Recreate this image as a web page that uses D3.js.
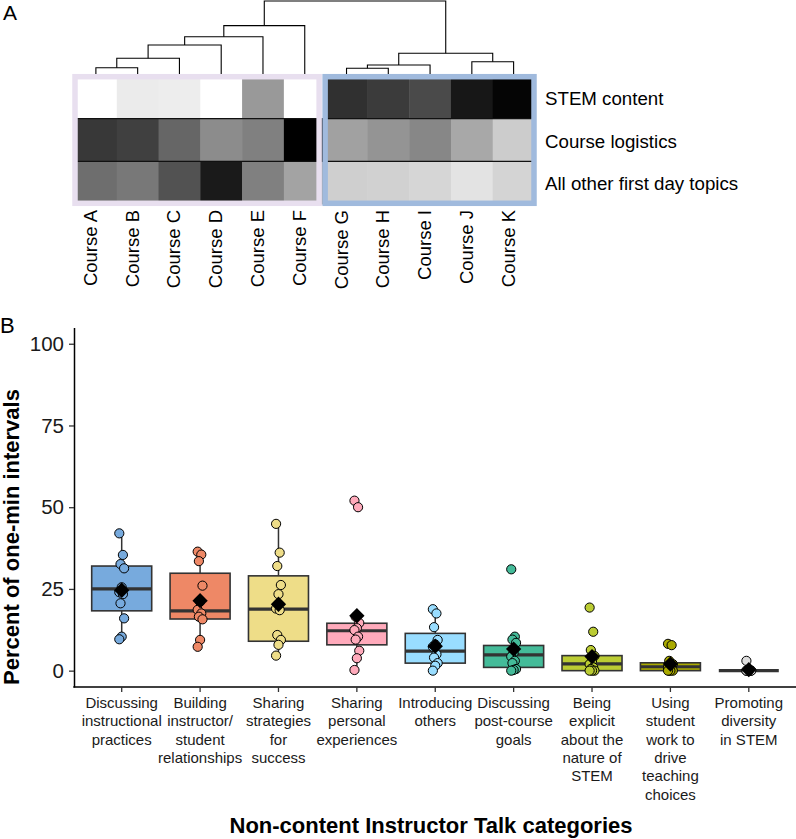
<!DOCTYPE html>
<html>
<head>
<meta charset="utf-8">
<script src="https://cdn.jsdelivr.net/npm/d3@7"></script>
<style>
  body { margin: 0; background: #fff; }
  text { font-family: "Liberation Sans", Arial, Helvetica, sans-serif; }
</style>
</head>
<body>
<script>
// ---- panel A data ----
var courses = ['Course A','Course B','Course C','Course D','Course E','Course F',
               'Course G','Course H','Course I','Course J','Course K'];
var topics = ['STEM content', 'Course logistics', 'All other first day topics'];
// shading intensity per course (0 = white, 1 = black)
var stemContent     = [0.00, 0.08, 0.07, 0.00, 0.40, 0.00, 0.81, 0.77, 0.71, 0.91, 0.98];
var courseLogistics = [0.78, 0.75, 0.60, 0.45, 0.50, 1.00, 0.37, 0.42, 0.47, 0.34, 0.20];
var otherTopics     = [0.57, 0.53, 0.68, 0.90, 0.50, 0.36, 0.19, 0.18, 0.16, 0.11, 0.17];
var groupA = ['Course A','Course F'];
var groupB = ['Course G','Course K'];
// clustering tree, h = merge height (0 leaves .. 1 root)
var dendro = {h: 1, children: [
  {h: 0.662, children: [
    {h: 0.511, children: [
      {h: 0.397, children: [
        {h: 0.215, children: [
          {h: 0.086, children: ['Course A', 'Course B']}, 'Course C']},
        'Course D']},
      'Course E']},
    'Course F']},
  {h: 0.284, children: [
    {h: 0.123, children: [
      {h: 0.078, children: ['Course G', 'Course H']}, 'Course I']},
    {h: 0.168, children: ['Course J', 'Course K']}]}
]};

// ---- panel B data ----
var categories = [
  'Discussing\ninstructional\npractices',
  'Building\ninstructor/\nstudent\nrelationships',
  'Sharing\nstrategies\nfor\nsuccess',
  'Sharing\npersonal\nexperiences',
  'Introducing\nothers',
  'Discussing\npost-course\ngoals',
  'Being\nexplicit\nabout the\nnature of\nSTEM',
  'Using\nstudent\nwork to\ndrive\nteaching\nchoices',
  'Promoting\ndiversity\nin STEM'
];
var colors = ['#77AADD','#EE8866','#EEDD88','#FFAABB','#99DDFF','#44BB99','#BBCC33','#AAAA00','#DDDDDD'];
var q1    = [18.3, 15.8,  9.0,  7.9,  2.3,  1.0, 0.0, 0.0, 0];
var med   = [25.0, 18.3, 18.8, 12.2,  6.0,  4.8, 2.1, 1.2, 0];
var q3    = [32.0, 29.8, 29.0, 14.5, 11.4,  7.7, 4.6, 2.4, 0];
var whLo  = [ 9.6,  7.3,  4.6,  0.0,  0.0,  0.0, 0.0, 0.0, 0];
var whHi  = [42.0, 36.4, 44.9, 14.6, 18.8, 10.4, 6.3, 2.4, 0];
var means = [24.6, 21.4, 20.3, 16.8,  7.5,  6.6, 4.3, 2.0, 0.3];
var points = [
  [42, 35.4, 32.6, 31.3, 25.5, 24, 23.4, 20.6, 16.0, 10.4, 9.6],
  [36.4, 35.5, 33.5, 26, 21.1, 18.6, 17.5, 16.5, 15.7, 9.4, 7.3],
  [44.9, 36.1, 32.0, 26.2, 23.4, 19, 18.5, 10.9, 9.4, 7.9, 4.6],
  [52, 50, 16.5, 14.6, 13, 12.4, 10.4, 9.5, 6.1, 3.8, 0.2],
  [18.8, 17.5, 13.3, 9.4, 8, 7.3, 5, 4, 2.3, 1.5, 0],
  [31, 10.4, 9.5, 8.5, 5.5, 4.3, 3, 2.3, 0.5, 0.2, 0],
  [19.3, 11.9, 6.3, 4.5, 3, 2, 1, 0.5, 0, 0, 0],
  [8.2, 7.8, 3, 2, 1.5, 1, 0.5, 0, 0, 0, 0],
  [3, 0, 0, 0, 0, 0, 0, 0, 0, 0, 0]
];
var yTicks = [0, 25, 50, 75, 100];

var width = 796, height = 839;
var svg = d3.select('body').append('svg')
    .attr('width', width)
    .attr('height', height);

// ================= panel A =================
svg.append('text').attr('x', 3).attr('y', 20)
    .attr('font-size', 21).text('A');

var xs = d3.scaleBand().domain(courses).range([75, 534.5]);
var ys = d3.scaleBand().domain(topics).range([76, 204]);
var shade = d3.scaleLinear().domain([0, 1]).range(['#ffffff', '#000000']);
var rows = [stemContent, courseLogistics, otherTopics];

var gA = svg.append('g');
rows.forEach(function (vals, r) {
    gA.selectAll('rect.r' + r)
        .data(vals)
        .enter()
        .append('rect')
            .attr('x', function (d, i) { return xs(courses[i]); })
            .attr('y', ys(topics[r]))
            .attr('width', xs.bandwidth() + 0.5)
            .attr('height', ys.bandwidth() + 0.5)
            .attr('fill', function (d) { return shade(d); });
});

// row separators
gA.selectAll('line.sep')
    .data(topics.slice(1))
    .enter()
    .append('line')
        .attr('x1', xs.range()[0]).attr('x2', xs.range()[1])
        .attr('y1', function (d) { return ys(d); })
        .attr('y2', function (d) { return ys(d); })
        .attr('stroke', '#111').attr('stroke-width', 1.2);

// cluster boxes
gA.append('rect')
    .attr('x', xs(groupA[0]))
    .attr('y', ys.range()[0] + 0.7)
    .attr('width', xs(groupA[1]) + xs.bandwidth() - 6.5 - xs(groupA[0]))
    .attr('height', ys.range()[1] - ys.range()[0] - 1.4)
    .attr('fill', 'none').attr('stroke', '#E8DFEF').attr('stroke-width', 5.5);
gA.append('rect')
    .attr('x', xs(groupB[0]) - 0.5)
    .attr('y', ys.range()[0] + 0.7)
    .attr('width', xs(groupB[1]) + xs.bandwidth() - xs(groupB[0]))
    .attr('height', ys.range()[1] - ys.range()[0] - 1.4)
    .attr('fill', 'none').attr('stroke', '#A0BADD').attr('stroke-width', 5.5);

// row labels
gA.selectAll('text.row')
    .data(topics)
    .enter()
    .append('text')
        .attr('x', 545)
        .attr('y', function (d) { return ys(d) + ys.bandwidth() / 2 + 7.5; })
        .attr('font-size', 18.7)
        .attr('fill', '#000')
        .text(function (d) { return d; });

// column labels
gA.selectAll('text.col')
    .data(courses)
    .enter()
    .append('text')
        .attr('transform', function (d) {
            return 'translate(' + (xs(d) + xs.bandwidth() / 2 + 1) + ',210) rotate(-90)';
        })
        .attr('text-anchor', 'end')
        .attr('font-size', 18.5)
        .attr('fill', '#000')
        .text(function (d) { return d; });

// dendrogram
var yDen = d3.scaleLinear().domain([0, 1]).range([74, 1]);
var gDen = svg.append('g');
function drawNode(n) {
    if (typeof n === 'string') {
        return {x: xs(n) + xs.bandwidth() / 2, y: yDen(0)};
    }
    var a = drawNode(n.children[0]);
    var b = drawNode(n.children[1]);
    var y = yDen(n.h);
    gDen.append('path')
        .attr('d', 'M' + a.x + ',' + a.y + 'V' + y + 'H' + b.x + 'V' + b.y)
        .attr('fill', 'none')
        .attr('stroke', '#000')
        .attr('stroke-width', 1.1);
    return {x: (a.x + b.x) / 2, y: y};
}
drawNode(dendro);

// ================= panel B =================
svg.append('text').attr('x', 0).attr('y', 333)
    .attr('font-size', 22).text('B');

var x = d3.scalePoint().domain(categories).range([121.7, 748.8]);
var y = d3.scaleLinear().domain([-5, 105]).range([687, 327.4]);
var boxW = 60;

var gB = svg.append('g');

// y axis
var yAxis = gB.append('g')
    .attr('transform', 'translate(74,0)')
    .call(d3.axisLeft(y).tickValues(yTicks).tickSize(5).tickSizeOuter(0).tickPadding(5));
yAxis.select('.domain').attr('stroke', '#000').attr('stroke-width', 1.5);
yAxis.selectAll('.tick line').attr('stroke', '#333').attr('stroke-width', 1.3);
yAxis.selectAll('.tick text')
    .attr('font-size', 20.5)
    .attr('font-family', '"Liberation Sans", Arial, sans-serif')
    .attr('fill', '#1a1a1a');

// x axis
gB.append('line')
    .attr('x1', 73.25).attr('x2', width)
    .attr('y1', y(-5)).attr('y2', y(-5))
    .attr('stroke', '#000').attr('stroke-width', 1.5);
gB.selectAll('line.xtick')
    .data(categories)
    .enter()
    .append('line')
        .attr('x1', function (d) { return x(d); })
        .attr('x2', function (d) { return x(d); })
        .attr('y1', y(-5)).attr('y2', y(-5) + 5)
        .attr('stroke', '#333').attr('stroke-width', 1.3);

var xLab = gB.selectAll('text.xlab')
    .data(categories)
    .enter()
    .append('text')
        .attr('text-anchor', 'middle')
        .attr('font-size', 15)
        .attr('fill', '#1a1a1a');
xLab.each(function (d) {
    var t = d3.select(this);
    d.split('\n').forEach(function (line, i) {
        t.append('tspan')
            .attr('x', x(d))
            .attr('y', 708 + i * 18.3)
            .text(line);
    });
});

// whiskers
gB.selectAll('line.whisk')
    .data(categories)
    .enter()
    .append('path')
        .attr('d', function (d, i) {
            return 'M' + x(d) + ',' + y(whHi[i]) + 'V' + y(q3[i]) +
                   'M' + x(d) + ',' + y(q1[i]) + 'V' + y(whLo[i]);
        })
        .attr('stroke', '#333').attr('stroke-width', 1.5).attr('fill', 'none');

// boxes
gB.selectAll('rect.box')
    .data(categories)
    .enter()
    .append('rect')
        .attr('x', function (d) { return x(d) - boxW / 2; })
        .attr('y', function (d, i) { return y(q3[i]); })
        .attr('width', boxW)
        .attr('height', function (d, i) { return y(q1[i]) - y(q3[i]); })
        .attr('fill', function (d, i) { return colors[i]; })
        .attr('stroke', '#333')
        .attr('stroke-width', 1.6);

// medians
gB.selectAll('line.med')
    .data(categories)
    .enter()
    .append('line')
        .attr('x1', function (d) { return x(d) - boxW / 2; })
        .attr('x2', function (d) { return x(d) + boxW / 2; })
        .attr('y1', function (d, i) { return y(med[i]); })
        .attr('y2', function (d, i) { return y(med[i]); })
        .attr('stroke', '#333')
        .attr('stroke-width', 3.2);

// points (small fixed spread around the centre)
categories.forEach(function (c, ci) {
    gB.selectAll('circle.p' + ci)
        .data(points[ci])
        .enter()
        .append('circle')
            .attr('cx', function (d, i) { return x(c) + ((i * 3) % 5 - 2) * 1.2; })
            .attr('cy', function (d) { return y(d); })
            .attr('r', 4.6)
            .attr('fill', colors[ci])
            .attr('stroke', '#000')
            .attr('stroke-width', 1);
});

// means
gB.selectAll('path.mean')
    .data(categories)
    .enter()
    .append('path')
        .attr('d', d3.symbol().type(d3.symbolDiamond2).size(150))
        .attr('transform', function (d, i) { return 'translate(' + x(d) + ',' + y(means[i]) + ')'; })
        .attr('fill', '#000');

// axis titles
svg.append('text')
    .attr('transform', 'translate(19,537) rotate(-90)')
    .attr('text-anchor', 'middle')
    .attr('font-size', 22)
    .attr('font-weight', 'bold')
    .text('Percent of one-min intervals');

svg.append('text')
    .attr('x', 431).attr('y', 833)
    .attr('text-anchor', 'middle')
    .attr('font-size', 22)
    .attr('font-weight', 'bold')
    .text('Non-content Instructor Talk categories');
</script>
</body>
</html>
